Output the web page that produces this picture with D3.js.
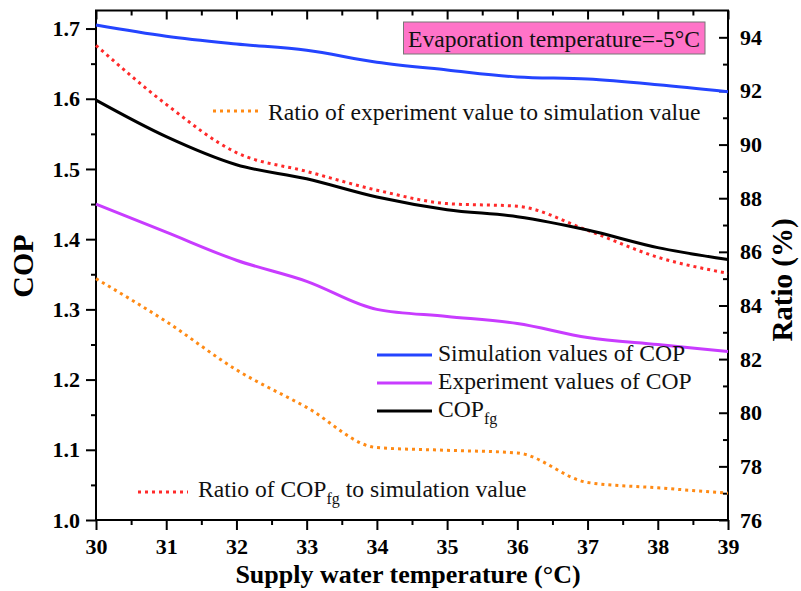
<!DOCTYPE html>
<html>
<head>
<meta charset="utf-8">
<script src="https://cdn.jsdelivr.net/npm/d3@7"></script>
<style>
  html, body { margin: 0; padding: 0; background: #fff; }
  svg { display: block; }
  text { font-family: "Liberation Serif", "Times New Roman", serif; }
</style>
</head>
<body>
<svg id="chart" width="801" height="591"></svg>
<script>
// Supply water temperature (°C)
const temps = [30, 31, 32, 33, 34, 35, 36, 37, 38, 39];
// COP series (left axis)
const simCOP = [1.705, 1.689, 1.678, 1.669, 1.652, 1.641, 1.631, 1.628, 1.620, 1.610];
const expCOP = [1.450, 1.410, 1.370, 1.340, 1.300, 1.290, 1.280, 1.260, 1.250, 1.240];
const fgCOP  = [1.598, 1.546, 1.506, 1.486, 1.460, 1.442, 1.432, 1.413, 1.388, 1.371];
// Ratio series in % (right axis)
const ratioExp = [85.0, 83.4, 81.6, 80.2, 78.7, 78.6, 78.5, 77.4, 77.2, 77.0];
const ratioFg  = [93.7, 91.5, 89.7, 89.0, 88.3, 87.8, 87.7, 86.8, 85.8, 85.2];
// Tick labels
const copTicks = [1.0, 1.1, 1.2, 1.3, 1.4, 1.5, 1.6, 1.7];
const ratioTicks = [76, 78, 80, 82, 84, 86, 88, 90, 92, 94];

const svg = d3.select("#chart");
const L = 96, R = 728, T = 10.5, B = 520;

const x = d3.scaleLinear().domain([30, 39]).range([L, R]);
const yL = d3.scaleLinear().domain([1.0, 1.7257]).range([B, T]);
const yR = d3.scaleLinear().domain([76, 95]).range([B, T]);

const tickFont = g => g.selectAll("text")
  .style("font-family", "'Liberation Serif', 'Times New Roman', serif")
  .style("font-size", "22px").style("font-weight", "bold").attr("fill", "#000");
const tickLines = g => { g.select(".domain").remove(); g.selectAll("line").attr("stroke", "#000").attr("stroke-width", 2); };

const minorX = d3.range(30.5, 39, 1);
const minorL = d3.range(1.05, 1.7, 0.1);
const minorR = d3.range(77, 95, 2);

// bottom axis (outward ticks)
svg.append("g").attr("transform", `translate(0,${B})`)
  .call(d3.axisBottom(x).tickValues(temps).tickSize(10).tickPadding(8).tickFormat(d3.format("d")))
  .call(tickLines).call(tickFont);
svg.append("g").attr("transform", `translate(0,${B})`)
  .call(d3.axisBottom(x).tickValues(minorX).tickSize(5).tickFormat(""))
  .call(tickLines);

// top axis (inward ticks)
svg.append("g").attr("transform", `translate(0,${T})`)
  .call(d3.axisTop(x).tickValues(temps).tickSize(-9).tickFormat(""))
  .call(tickLines);
svg.append("g").attr("transform", `translate(0,${T})`)
  .call(d3.axisTop(x).tickValues(minorX).tickSize(-5).tickFormat(""))
  .call(tickLines);

// left axis (outward ticks)
svg.append("g").attr("transform", `translate(${L},0)`)
  .call(d3.axisLeft(yL).tickValues(copTicks).tickSize(10).tickPadding(6).tickFormat(d3.format(".1f")))
  .call(tickLines).call(tickFont);
svg.append("g").attr("transform", `translate(${L},0)`)
  .call(d3.axisLeft(yL).tickValues(minorL).tickSize(5).tickFormat(""))
  .call(tickLines);

// right axis (inward ticks)
svg.append("g").attr("transform", `translate(${R},0)`)
  .call(d3.axisRight(yR).tickValues(ratioTicks).tickSize(-9).tickPadding(12).tickFormat(d3.format("d")))
  .call(tickLines).call(tickFont);
svg.append("g").attr("transform", `translate(${R},0)`)
  .call(d3.axisRight(yR).tickValues(minorR).tickSize(-5).tickFormat(""))
  .call(tickLines);

// frame
svg.append("rect").attr("x", L).attr("y", T).attr("width", R - L).attr("height", B - T)
  .attr("fill", "none").attr("stroke", "#000").attr("stroke-width", 2);

// series
const curve = d3.curveMonotoneX;
const lineL = d3.line().x((d, i) => x(temps[i])).y(d => yL(d)).curve(curve);
const lineR = d3.line().x((d, i) => x(temps[i])).y(d => yR(d)).curve(curve);

const series = [
  { data: ratioExp, gen: lineR, color: "#ff8a14", dotted: true },
  { data: ratioFg,  gen: lineR, color: "#ff2a2a", dotted: true },
  { data: expCOP,   gen: lineL, color: "#c83cff", dotted: false },
  { data: fgCOP,    gen: lineL, color: "#000000", dotted: false },
  { data: simCOP,   gen: lineL, color: "#2444ff", dotted: false }
];
series.forEach(s => {
  svg.append("path").attr("d", s.gen(s.data))
    .attr("fill", "none").attr("stroke", s.color)
    .attr("stroke-width", 3)
    .attr("stroke-dasharray", s.dotted ? "3,4" : null);
});

// legend text; an object part { sub } is drawn as a subscript
const legendFont = "23.6px";
function legendText(xp, yp, parts) {
  const t = svg.append("text").attr("x", xp).attr("y", yp)
    .style("font-size", legendFont).attr("fill", "#111");
  let lowered = false;
  parts.forEach(p => {
    if (typeof p === "object") {
      t.append("tspan").attr("dy", 7).style("font-size", "16px").text(p.sub);
      lowered = true;
    } else {
      t.append("tspan").attr("dy", lowered ? -7 : 0).text(p);
      lowered = false;
    }
  });
  return t;
}

// evaporation temperature box
svg.append("rect").attr("x", 403.5).attr("y", 22).attr("width", 301.5).attr("height", 32)
  .attr("fill", "#ff73c8").attr("stroke", "#777").attr("stroke-width", 1);
legendText(408, 46.5, ["Evaporation temperature=-5°C"]);

// ratio legends
svg.append("line").attr("x1", 213).attr("x2", 262).attr("y1", 111).attr("y2", 111)
  .attr("stroke", "#ff8a14").attr("stroke-width", 3).attr("stroke-dasharray", "3,4");
legendText(268, 119.5, ["Ratio of experiment value to simulation value"]);

svg.append("line").attr("x1", 138).attr("x2", 188).attr("y1", 492).attr("y2", 492)
  .attr("stroke", "#ff2a2a").attr("stroke-width", 3).attr("stroke-dasharray", "3,4");
legendText(198, 497, ["Ratio of COP", { sub: "fg" }, " to simulation value"]);

// COP legends
const copLegend = [
  { color: "#2444ff", y: 355, parts: ["Simulation values of COP"] },
  { color: "#c83cff", y: 383, parts: ["Experiment values of COP"] },
  { color: "#000000", y: 411, parts: ["COP", { sub: "fg" }] }
];
copLegend.forEach(d => {
  svg.append("line").attr("x1", 377).attr("x2", 432).attr("y1", d.y).attr("y2", d.y)
    .attr("stroke", d.color).attr("stroke-width", 3);
  legendText(438, d.y + 5.5, d.parts);
});

// axis titles
svg.append("text").attr("x", 408).attr("y", 583).attr("text-anchor", "middle")
  .style("font-size", "26px").style("font-weight", "bold").text("Supply water temperature (°C)");
svg.append("text").attr("transform", "translate(33,266) rotate(-90)").attr("text-anchor", "middle")
  .style("font-size", "30px").style("font-weight", "bold").text("COP");
svg.append("text").attr("transform", "translate(792,280) rotate(-90)").attr("text-anchor", "middle")
  .style("font-size", "29px").style("font-weight", "bold").text("Ratio (%)");
</script>
</body>
</html>
